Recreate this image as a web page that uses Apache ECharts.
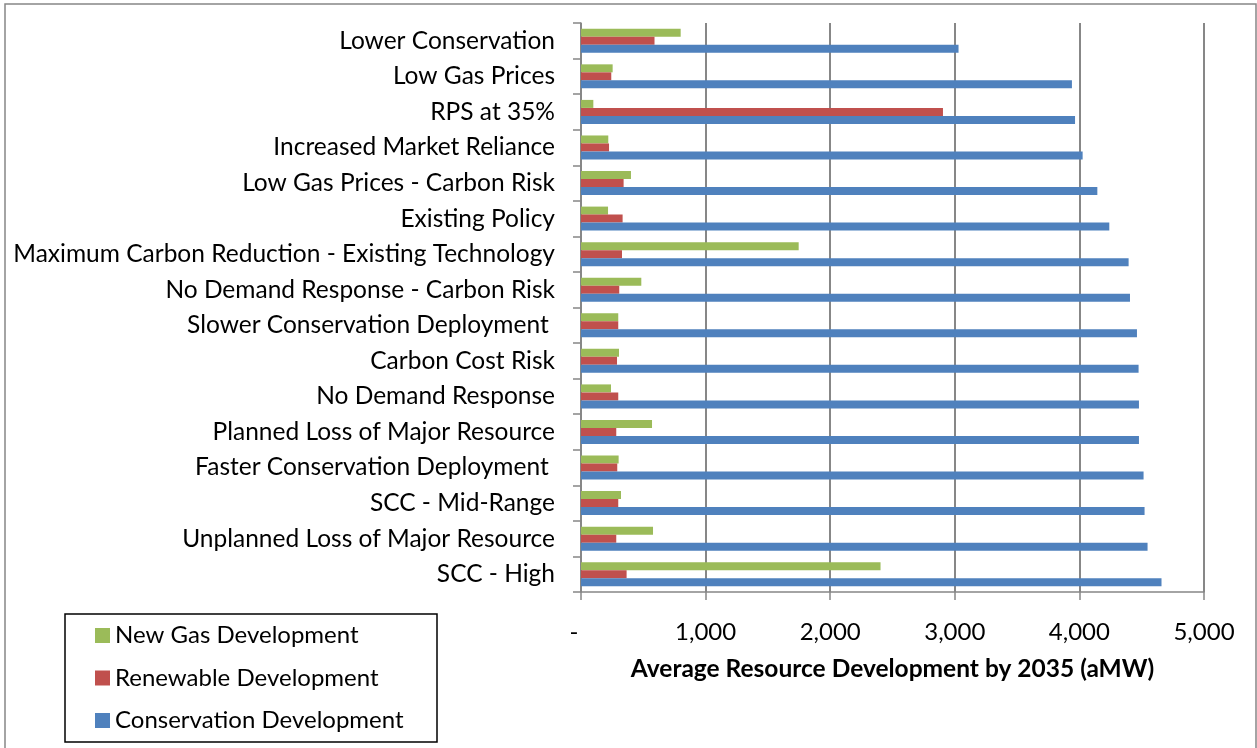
<!DOCTYPE html>
<html>
<head>
<meta charset="utf-8">
<title>Average Resource Development by 2035</title>
<script src="https://cdn.jsdelivr.net/npm/echarts@6/dist/echarts.min.js"></script>
<style>
  html, body { margin: 0; padding: 0; background: #ffffff; }
  #chart { width: 1257px; height: 748px; }
</style>
</head>
<body>
<div id="chart"></div>
<script>
// Scenarios, listed top to bottom
const scenarios = [
  'Lower Conservation',
  'Low Gas Prices',
  'RPS at 35%',
  'Increased Market Reliance',
  'Low Gas Prices - Carbon Risk',
  'Existing Policy',
  'Maximum Carbon Reduction - Existing Technology',
  'No Demand Response - Carbon Risk',
  'Slower Conservation Deployment ',
  'Carbon Cost Risk',
  'No Demand Response',
  'Planned Loss of Major Resource',
  'Faster Conservation Deployment ',
  'SCC - Mid-Range',
  'Unplanned Loss of Major Resource',
  'SCC - High'
];

// Average resource development by 2035 (aMW)
const newGas = [800, 254, 99, 219, 401, 217, 1747, 484, 299, 305, 241, 570, 302, 321, 578, 2404];
const renewable = [590, 243, 2905, 225, 342, 334, 329, 307, 299, 289, 299, 283, 291, 299, 283, 366];
const conservation = [3030, 3940, 3965, 4026, 4144, 4240, 4395, 4406, 4462, 4475, 4478, 4478, 4515, 4523, 4547, 4659];

const seriesNames = ['New Gas Development', 'Renewable Development', 'Conservation Development'];
const seriesColors = ['#9BBB59', '#C0504D', '#4F81BD'];

const xTicks = { min: 0, max: 5000, interval: 1000 };
const axisTitle = 'Average Resource Development by 2035 (aMW)';

const FONT = 'Lato, "Open Sans", sans-serif';
const FS = 24;
const GRAY = '#878787';

const chart = echarts.init(document.getElementById('chart'), null, { renderer: 'canvas' });

function barSeries(name, data, color) {
  return {
    name: name,
    type: 'bar',
    data: data,
    barWidth: 8,
    barGap: '0%',
    itemStyle: { color: color },
    emphasis: { disabled: true }
  };
}

chart.setOption({
  animation: false,
  backgroundColor: '#ffffff',
  textStyle: { fontFamily: FONT },
  grid: { left: 581, top: 23, right: 53, bottom: 156, containLabel: false },
  xAxis: {
    type: 'value',
    min: xTicks.min,
    max: xTicks.max,
    interval: xTicks.interval,
    name: axisTitle,
    nameLocation: 'middle',
    nameGap: 65,
    nameTextStyle: { fontFamily: FONT, fontSize: 24.5, fontWeight: 'bold', color: '#000' },
    axisLine: { show: true, lineStyle: { color: GRAY, width: 1.5 } },
    axisTick: { show: true, length: 8, lineStyle: { color: GRAY, width: 1.5 } },
    axisLabel: {
      margin: 28,
      fontFamily: FONT,
      fontSize: FS,
      color: '#000',
      formatter: function (v) {
        return v === 0 ? '{dash|-}' : v.toLocaleString('en-US');
      },
      rich: { dash: { fontFamily: FONT, fontSize: FS, color: '#000', padding: [0, 14, 0, 0] } }
    },
    splitLine: { show: true, lineStyle: { color: GRAY, width: 2 } }
  },
  yAxis: {
    type: 'category',
    inverse: true,
    data: scenarios,
    axisLine: { show: true, lineStyle: { color: GRAY, width: 1.5 } },
    axisTick: { show: true, length: 8, lineStyle: { color: GRAY, width: 1.5 } },
    axisLabel: { margin: 26, fontFamily: FONT, fontSize: 24.5, color: '#000' },
    splitLine: { show: false }
  },
  legend: {
    orient: 'vertical',
    left: 95,
    top: 623,
    padding: 0,
    icon: 'rect',
    itemWidth: 15,
    itemHeight: 15,
    itemGap: 17.5,
    selectedMode: false,
    data: seriesNames,
    textStyle: { fontFamily: FONT, fontSize: FS, color: '#000', lineHeight: 25 }
  },
  graphic: [
    {
      type: 'rect',
      shape: { x: 5, y: 4, width: 1251, height: 800 },
      style: { fill: null, stroke: GRAY, lineWidth: 1.5 },
      silent: true,
      z: 0
    },
    {
      type: 'rect',
      shape: { x: 65, y: 614, width: 372, height: 128 },
      style: { fill: null, stroke: '#000', lineWidth: 1.5 },
      silent: true,
      z: 0
    }
  ],
  series: [
    barSeries(seriesNames[0], newGas, seriesColors[0]),
    barSeries(seriesNames[1], renewable, seriesColors[1]),
    barSeries(seriesNames[2], conservation, seriesColors[2])
  ]
});
</script>
</body>
</html>
